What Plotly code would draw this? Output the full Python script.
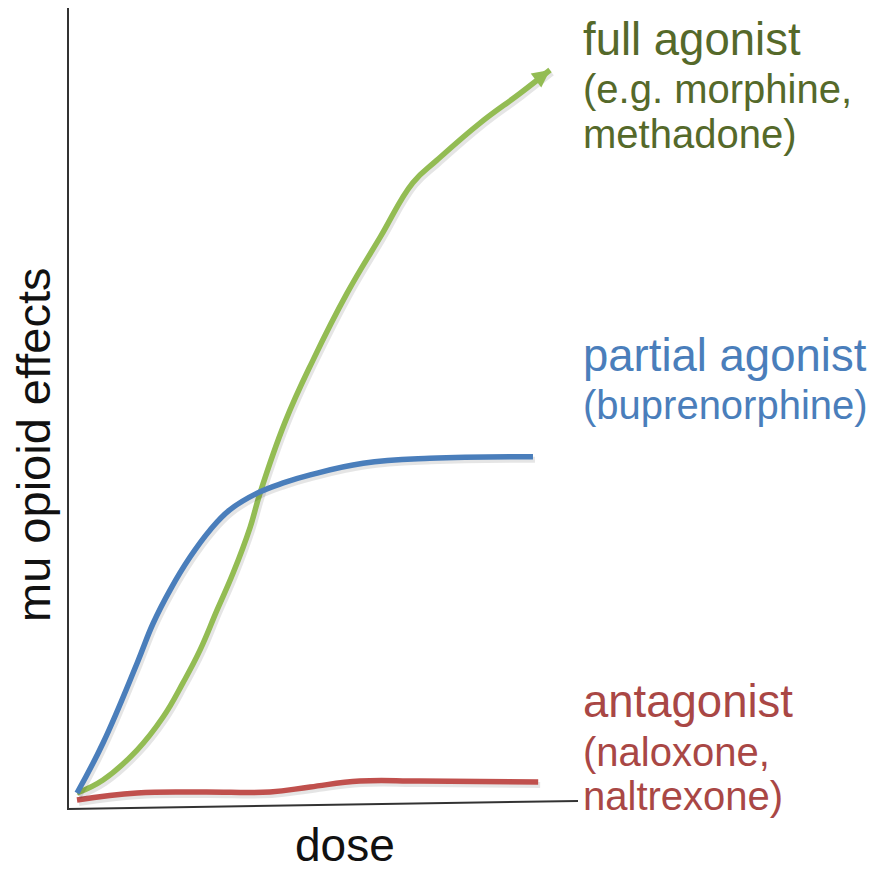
import plotly.graph_objects as go

# dose (arbitrary units) vs mu opioid effect (arbitrary units)
full_dose = [0, 0.55, 1.27, 1.82, 2.24, 2.60, 2.96, 3.30, 3.66, 3.87, 4.40, 4.99, 5.71, 6.41, 7.10, 7.61, 8.52, 9.37, 10.0]
full_eff = [0.55, 2.34, 6.46, 11.0, 15.7, 20.2, 25.7, 30.8, 37.1, 41.8, 51.6, 60.1, 69.3, 77.0, 84.5, 87.6, 92.7, 96.8, 100.0]

partial_dose = [0, 0.55, 1.27, 1.61, 1.97, 2.39, 2.81, 3.23, 3.81, 4.36, 4.93, 6.05, 7.46, 9.64]
partial_eff = [0.55, 7.43, 18.4, 23.9, 28.5, 33.0, 36.7, 39.5, 41.8, 43.2, 44.3, 45.9, 46.6, 46.8]

antag_dose = [0, 1.27, 2.66, 4.08, 4.93, 5.98, 7.25, 9.75]
antag_eff = [-0.41, 0.55, 0.69, 0.69, 1.38, 2.2, 2.2, 2.06]

labels_full = ["full agonist", "(e.g. morphine,", "methadone)"]
labels_partial = ["partial agonist", "(buprenorphine)"]
labels_antag = ["antagonist", "(naloxone,", "naltrexone)"]

GREEN = "#93BC53"
BLUE = "#4A7EBB"
RED = "#C0504D"
GREEN_T = "#55692A"
BLUE_T = "#4A7EBB"
RED_T = "#A94745"

W = H = 872
PX_X0, PX_PER_X = 77, 47.3
PX_Y0, PX_PER_Y = 797, 7.27

fig = go.Figure()
for xs, ys, c in [(antag_dose, antag_eff, RED), (full_dose, full_eff, GREEN), (partial_dose, partial_eff, BLUE)]:
    # soft shadow
    fig.add_trace(go.Scatter(x=[v + 2 / PX_PER_X for v in xs], y=[v - 3 / PX_PER_Y for v in ys], mode="lines",
                             line=dict(color="rgba(0,0,0,0.10)", width=6, shape="spline", smoothing=1.2),
                             hoverinfo="skip", showlegend=False))
    fig.add_trace(go.Scatter(x=xs, y=ys, mode="lines", line=dict(color=c, width=5.5, shape="spline", smoothing=1.2),
                             hoverinfo="skip", showlegend=False))

# arrow tip on full agonist curve
fig.add_annotation(x=full_dose[-1], y=full_eff[-1], xref="x", yref="y", ax=-12, ay=9,
                   showarrow=True, arrowhead=2, arrowsize=0.7, arrowwidth=5, arrowcolor=GREEN, text="", standoff=0)

def px(xp):
    return xp / W

def py(yp):
    return 1 - yp / H

# axes lines
fig.add_shape(type="line", xref="paper", yref="paper", x0=px(68), y0=py(8), x1=px(68), y1=py(810),
              line=dict(color="#333333", width=2))
fig.add_shape(type="line", xref="paper", yref="paper", x0=px(68), y0=py(809), x1=px(578), y1=py(801),
              line=dict(color="#333333", width=2))

FONT = "Liberation Sans, Arial, sans-serif"

def label(text, xp, baseline, size, color):
    fig.add_annotation(text=text, xref="paper", yref="paper", x=px(xp), y=py(baseline - 0.3 * size),
                       xanchor="left", yanchor="middle", showarrow=False,
                       font=dict(family=FONT, size=size, color=color))

label(labels_full[0], 581, 53, 45.5, GREEN_T)
label(labels_full[1], 581, 101, 40, GREEN_T)
label(labels_full[2], 581, 146, 40, GREEN_T)
label(labels_partial[0], 581, 369, 45.5, BLUE_T)
label(labels_partial[1], 581, 417, 40, BLUE_T)
label(labels_antag[0], 581, 715, 45.5, RED_T)
label(labels_antag[1], 581, 764, 40, RED_T)
label(labels_antag[2], 581, 808, 40, RED_T)

fig.add_annotation(text="dose", xref="paper", yref="paper", x=px(345), y=py(845),
                   xanchor="center", yanchor="middle", showarrow=False,
                   font=dict(family=FONT, size=46, color="#111111"))
fig.add_annotation(text="mu opioid effects", xref="paper", yref="paper", x=px(33), y=py(445),
                   xanchor="center", yanchor="middle", showarrow=False, textangle=-90,
                   font=dict(family=FONT, size=47, color="#111111"))

fig.update_layout(
    width=W, height=H, margin=dict(l=0, r=0, t=0, b=0),
    paper_bgcolor="white", plot_bgcolor="white",
    xaxis=dict(range=[-PX_X0 / PX_PER_X, (W - PX_X0) / PX_PER_X], visible=False, fixedrange=True),
    yaxis=dict(range=[(PX_Y0 - H) / PX_PER_Y, PX_Y0 / PX_PER_Y], visible=False, fixedrange=True),
)

fig.write_html("out.html", config={"displayModeBar": False},
               post_script="document.body.style.margin='0px';document.body.style.overflow='hidden';")
